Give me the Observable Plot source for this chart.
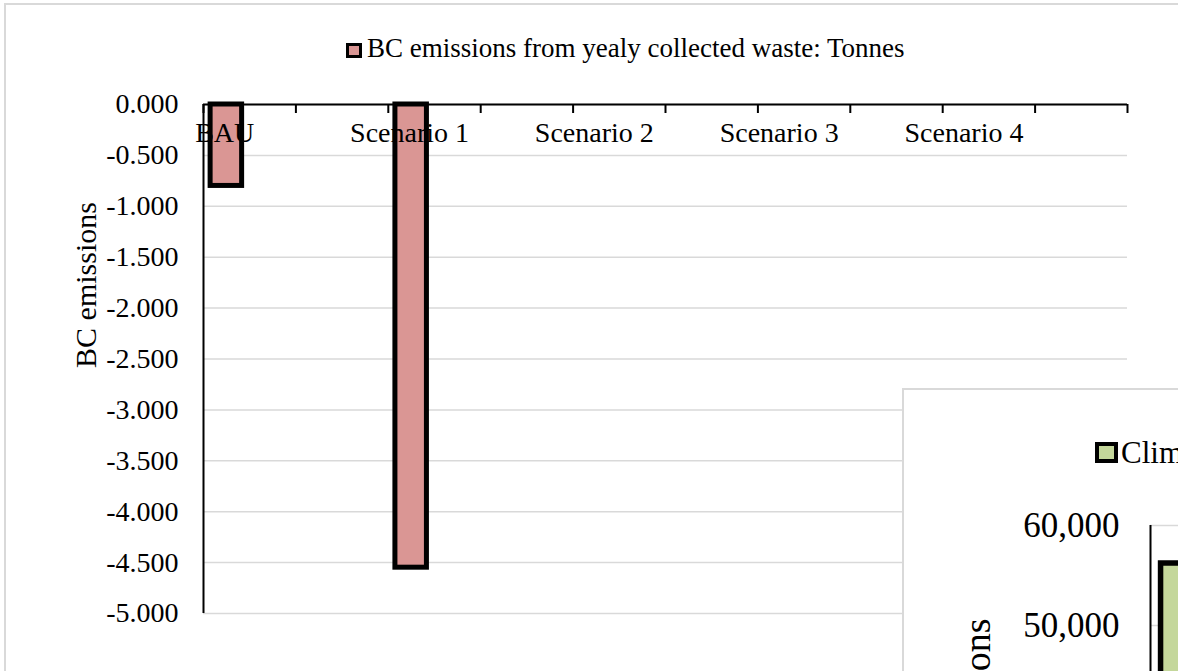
<!DOCTYPE html>
<html>
<head>
<meta charset="utf-8">
<script src="https://cdn.jsdelivr.net/npm/d3@7"></script>
<script src="https://cdn.jsdelivr.net/npm/@observablehq/plot@0.6"></script>
<style>
  html, body { margin: 0; padding: 0; width: 1178px; height: 671px; overflow: hidden; background: #fff; }
  body { position: relative; font-family: "Liberation Serif", "Times New Roman", serif; color: #000; }
  .abs { position: absolute; }
  #frame { left: 4px; top: 3px; width: 1400px; height: 1000px; border: 2px solid #d9d9d9; box-sizing: border-box; }
  #insetFrame { left: 902px; top: 388px; width: 800px; height: 800px; border: 2px solid #d9d9d9; box-sizing: border-box; background: #fff; }
  .swatch { box-sizing: border-box; border: 3px solid #000; }
  .legendText { white-space: nowrap; }
  #mainChart { width: 1178px; height: 671px; }
  #insetChart { width: 1000px; height: 900px; }
  #mainChart svg, #insetChart svg { max-width: none !important; overflow: visible; }
</style>
</head>
<body>
<div id="frame" class="abs"></div>
<div id="mainChart" class="abs" style="left:0;top:0;"></div>
<div class="abs swatch" style="left:346px;top:43px;width:16px;height:15px;background:#da9694;"></div>
<div class="abs legendText" style="left:367px;top:35px;font-size:27px;line-height:27px;">BC emissions from yealy collected waste: Tonnes</div>
<div id="insetFrame" class="abs"></div>
<div id="insetChart" class="abs" style="left:904px;top:390px;"></div>
<div class="abs swatch" style="left:1095px;top:442px;width:23px;height:21px;border-width:4px;background:#c4d79b;"></div>
<div class="abs legendText" style="left:1121px;top:437px;font-size:31px;line-height:31px;">Climate impact from yealy collected waste: Tonnes CO2-eq</div>
<script>
// Scenarios and their yearly emissions
const scenarios = ["BAU", "Scenario 1", "Scenario 2", "Scenario 3", "Scenario 4"];
const bcTonnes = [-0.80, -4.55, null, null, null];
const climateTonnes = [56200, null, null, null, null];

// Axis ticks
const bcTicks = [0, -0.5, -1, -1.5, -2, -2.5, -3, -3.5, -4, -4.5, -5];
const climateTicks = [0, 10000, 20000, 30000, 40000, 50000, 60000];

// Each scenario spans two category slots on the x axis
const slotBoundaries = d3.range(0, 11);
const rows = scenarios.map((name, i) => ({
  name,
  slot: 2 * i,
  bc: bcTonnes[i],
  climate: climateTonnes[i]
}));

const serif = "'Liberation Serif', 'Times New Roman', serif";

const main = Plot.plot({
  width: 1178,
  height: 671,
  marginTop: 104,
  marginRight: 51,
  marginBottom: 58,
  marginLeft: 203,
  x: {type: "linear", domain: [0, 10], axis: null},
  y: {type: "linear", domain: [-5, 0], axis: null},
  style: {"font-family": serif, "font-size": "28px", "color": "#000", "background": "transparent"},
  marks: [
    Plot.ruleY(bcTicks, {stroke: "#d9d9d9", strokeWidth: 1.5}),
    Plot.rectY(rows.filter(d => d.bc != null), {
      x1: d => d.slot + 0.077,
      x2: d => d.slot + 0.418,
      y1: () => 0,
      y2: "bc",
      fill: "#da9694",
      stroke: "#000",
      strokeWidth: 5
    }),
    Plot.ruleY([0], {stroke: "#000", strokeWidth: 2}),
    Plot.ruleX([0], {stroke: "#000", strokeWidth: 2}),
    Plot.ruleX(slotBoundaries, {x: d => d, y1: () => 0, y2: () => 0, insetBottom: -9, stroke: "#000", strokeWidth: 2}),
    Plot.axisY({ticks: bcTicks, tickFormat: d => d.toFixed(3), tickSize: 0, tickPadding: 25, fontSize: 28, fontFamily: serif, label: null}),
    Plot.text(rows, {x: d => d.slot + 0.23, y: () => 0, text: "name", dy: 29, fontSize: 28, fontFamily: serif}),
    Plot.text(["BC emissions"], {frameAnchor: "left", textAnchor: "middle", lineAnchor: "middle", rotate: -90, dx: -117, dy: -74, fontSize: 30, fontFamily: serif})
  ]
});
document.getElementById("mainChart").appendChild(main);

const inset = Plot.plot({
  width: 1000,
  height: 900,
  marginTop: 135,
  marginRight: 0,
  marginBottom: 165,
  marginLeft: 246,
  x: {type: "linear", domain: [0, 10], axis: null},
  y: {type: "linear", domain: [0, 60000], axis: null},
  style: {"font-family": serif, "font-size": "35px", "color": "#000", "background": "transparent"},
  marks: [
    Plot.ruleY(climateTicks, {stroke: "#d9d9d9", strokeWidth: 1.5}),
    Plot.rectY(rows.filter(d => d.climate != null), {
      x1: d => d.slot + 0.14,
      x2: d => d.slot + 0.8,
      y1: () => 0,
      y2: "climate",
      fill: "#c4d79b",
      stroke: "#000",
      strokeWidth: 5.5
    }),
    Plot.ruleX([0], {stroke: "#000", strokeWidth: 2}),
    Plot.axisY({ticks: climateTicks, tickFormat: d3.format(","), tickSize: 0, tickPadding: 31, fontSize: 35, fontFamily: serif, label: null}),
    Plot.text(["GHG emissions"], {frameAnchor: "top-left", rotate: -90, textAnchor: "end", lineAnchor: "middle", dx: -173, dy: 93, fontSize: 38, fontFamily: serif})
  ]
});
document.getElementById("insetChart").appendChild(inset);
</script>
</body>
</html>
